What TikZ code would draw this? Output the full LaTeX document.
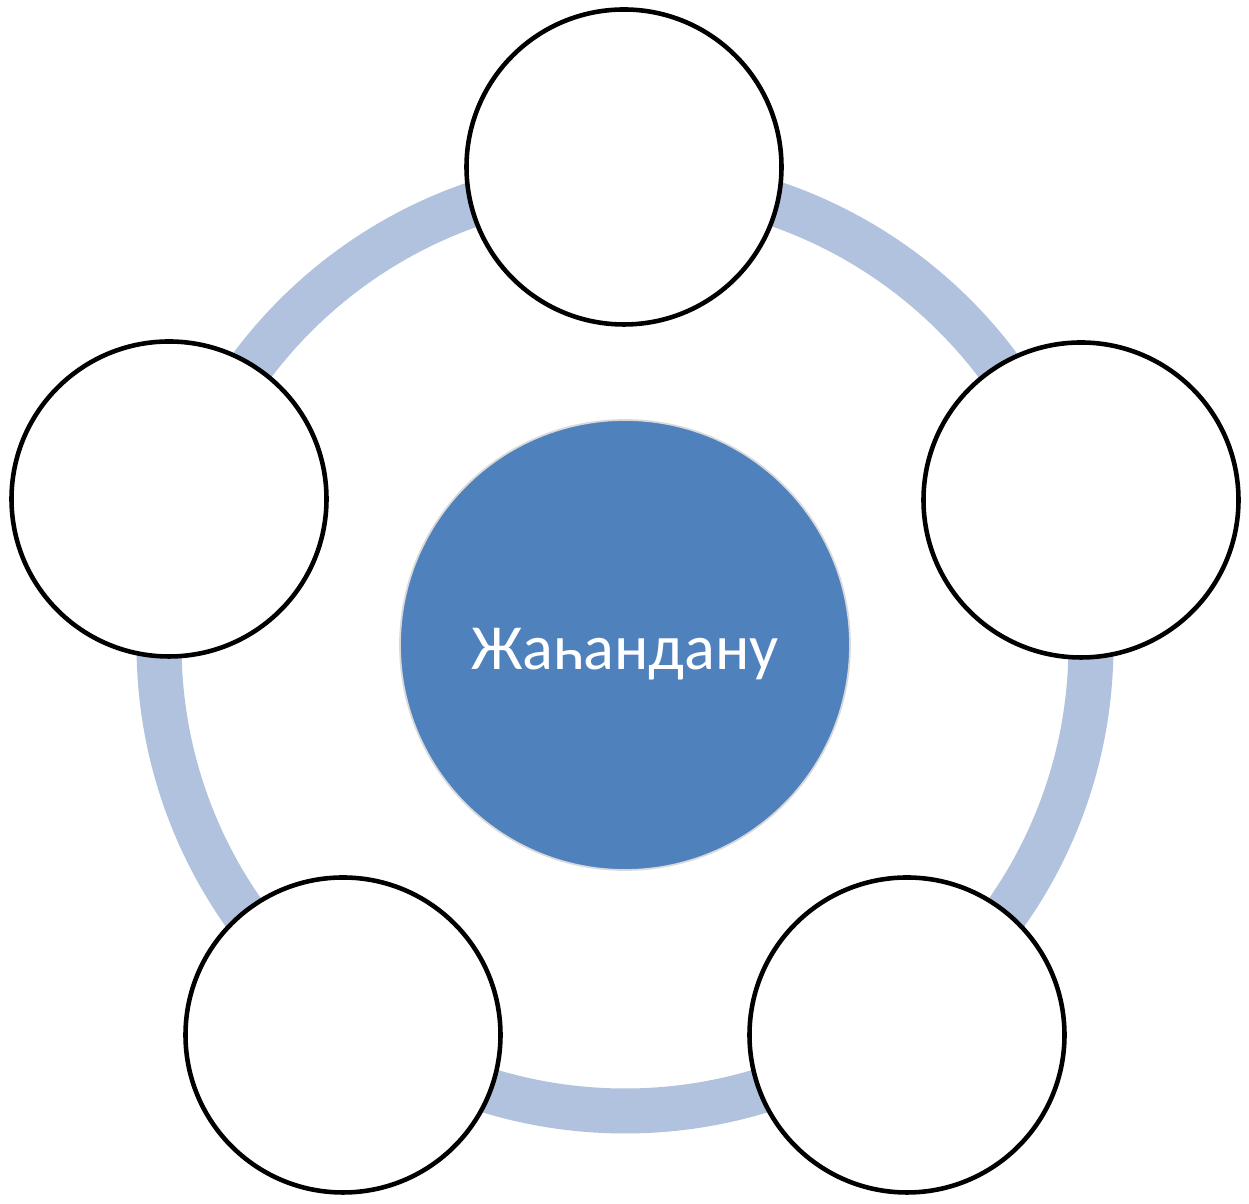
\documentclass[tikz,border=0pt]{standalone}
\usepackage{fontspec}
\setmainfont{Carlito}
\usepackage{tikz}
\definecolor{HubBlue}{HTML}{4F81BD}
\definecolor{RingBlue}{HTML}{B0C2DD}
\tikzset{
  HB/.style={circle,inner sep=0pt,minimum size=4.5cm,
             fill=HubBlue,draw=white!85!black,line width=0.5pt,
             text height=0.62cm,text depth=0.12cm,
             text=white,font=\fontsize{18.3}{22}\selectfont},
  SC/.style={circle,inner sep=0pt,minimum size=3.15cm,
             fill=white,draw=black,line width=1.3pt},
  ring/.style={draw=RingBlue,line width=0.45cm}
}
\begin{document}
\begin{tikzpicture}
  \useasboundingbox (0,0) rectangle (12.49,12.04);
  \coordinate (mid) at (6.25,5.59);
  \draw[ring] (mid) circle (4.66);

  \node[HB] (hub) at (mid) {Жаһандану};

  \node[SC] (top) at (6.24,10.37) {};
  \node[SC] (right) at (10.81,7.04) {};
  \node[SC] (left) at (1.69,7.05) {};
  \node[SC] (botleft) at (3.43,1.69) {};
  \node[SC] (botright) at (9.07,1.69) {};
\end{tikzpicture}
\end{document}
